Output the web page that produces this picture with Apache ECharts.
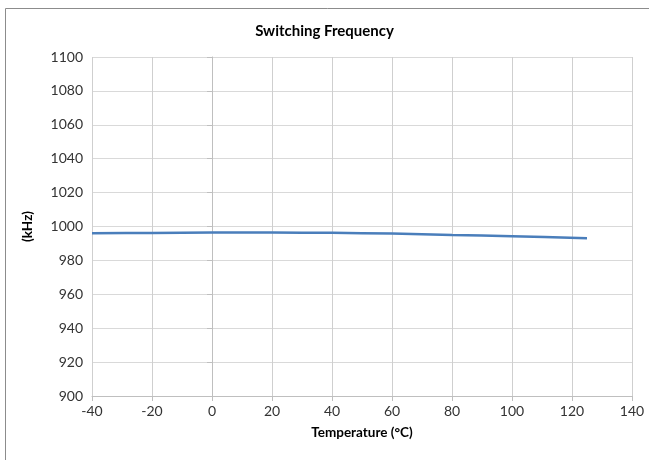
<!DOCTYPE html>
<html><head><meta charset="utf-8">
<script src="https://cdn.jsdelivr.net/npm/echarts@6/dist/echarts.min.js"></script>
<style>html,body{margin:0;padding:0;background:#fff}#c{width:649px;height:460px}</style>
</head><body><div id="c"></div>
<script>
const temps = [-40, -20, 0, 20, 40, 60, 80, 100, 125];
const freq = [996.0, 996.2, 996.4, 996.4, 996.3, 995.8, 995.0, 994.3, 993.0];
const xTicks = {min: -40, max: 140, interval: 20};
const yTicks = {min: 900, max: 1100, interval: 20};

const font = 'Lato, "Open Sans", sans-serif';
const chart = echarts.init(document.getElementById('c'));
chart.setOption({
  animation: false,
  title: {text: 'Switching Frequency', left: 'center', top: 19,
    textStyle: {fontFamily: font, fontSize: 15, fontWeight: 'bold', color: '#000'}},
  graphic: [{type: 'rect', shape: {x: 5.5, y: 8.5, width: 700, height: 500},
    style: {fill: 'none', stroke: '#8c8c8c', lineWidth: 1}, silent: true, z: -1}],
  grid: {left: 92, right: 17, top: 57, bottom: 64},
  xAxis: {type: 'value', min: xTicks.min, max: xTicks.max, interval: xTicks.interval,
    name: 'Temperature (°C)', nameLocation: 'middle', nameGap: 30,
    nameTextStyle: {fontFamily: font, fontSize: 13.5, fontWeight: 'bold', color: '#000'},
    axisLine: {show: true, lineStyle: {color: '#bfbfbf'}},
    axisTick: {show: true, length: 5, lineStyle: {color: '#bfbfbf'}},
    axisLabel: {fontFamily: font, fontSize: 14, color: '#333', margin: 8, formatter: v => String(v)},
    splitLine: {show: true, lineStyle: {color: '#cfcfcf'}}},
  yAxis: {type: 'value', min: yTicks.min, max: yTicks.max, interval: yTicks.interval,
    name: '(kHz)', nameLocation: 'middle', nameGap: 57, nameRotate: 90,
    nameTextStyle: {fontFamily: font, fontSize: 13.5, fontWeight: 'bold', color: '#000'},
    axisLine: {show: true, lineStyle: {color: '#bfbfbf'}},
    axisTick: {show: true, length: 5, lineStyle: {color: '#bfbfbf'}},
    axisLabel: {fontFamily: font, fontSize: 14, color: '#333', margin: 9, formatter: v => String(v)},
    splitLine: {show: true, lineStyle: {color: '#d9d9d9'}}},
  series: [{type: 'line', data: temps.map((t, i) => [t, freq[i]]), showSymbol: false,
    smooth: 0.3, lineStyle: {color: '#4a7ebb', width: 2.5}}]
});
</script></body></html>
